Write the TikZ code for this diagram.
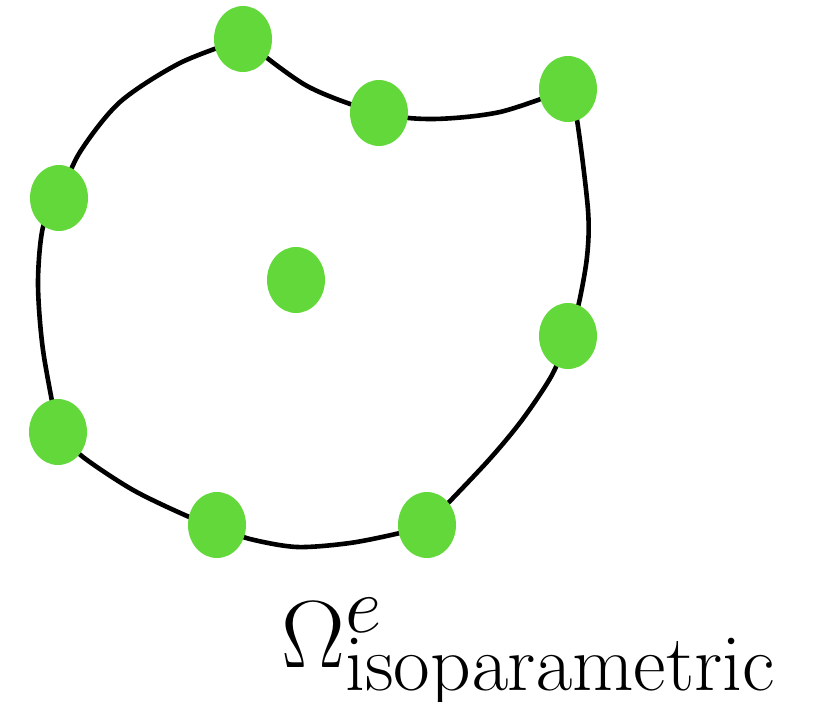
\documentclass[tikz,border=0pt]{standalone}
\usetikzlibrary{shapes.geometric}
\begin{document}
\begin{tikzpicture}[x=0.5pt,y=-0.5pt,
  pt/.style={fill=nodegreen,draw=none,ellipse,minimum width=29pt,minimum height=33pt,inner sep=0pt},
  edge/.style={line width=2.3pt,black}]
\definecolor{nodegreen}{HTML}{62D83A}
\useasboundingbox (0,0) rectangle (829,701);
\draw[edge] plot[smooth,tension=0.5] coordinates {(243,39) (307,86) (379,113) (433,119) (500,112) (568,89)};
\draw[edge] plot[smooth,tension=0.5] coordinates {(568,89) (577,120) (588,210) (587,257) (578,307) (568,336) (552,375) (522,420) (487,462) (427,525)};
\draw[edge] plot[smooth,tension=0.5] coordinates {(427,525) (400,533) (350,543) (297,547) (250,539) (217,527) (187,516) (133,490) (83,457) (58,432)};
\draw[edge] plot[smooth,tension=0.5] coordinates {(58,432) (43,350) (38,283) (43,227) (59,198) (80,152) (120,102) (180,63) (243,39)};
\node[pt] (n1) at (243,39) {};
\node[pt] (n2) at (379,113) {};
\node[pt] (n3) at (568,89) {};
\node[pt] (n4) at (59,198) {};
\node[pt] (n5) at (296,280) {};
\node[pt] (n6) at (568,336) {};
\node[pt] (n7) at (58,432) {};
\node[pt] (n8) at (217,525) {};
\node[pt] (n9) at (427,525) {};
\node[anchor=base west,inner sep=0pt,font=\Huge,scale=1.92,transform shape] (lab) at (281,667) {$\Omega^e_{\mathrm{isoparametric}}$};
\end{tikzpicture}
\end{document}
